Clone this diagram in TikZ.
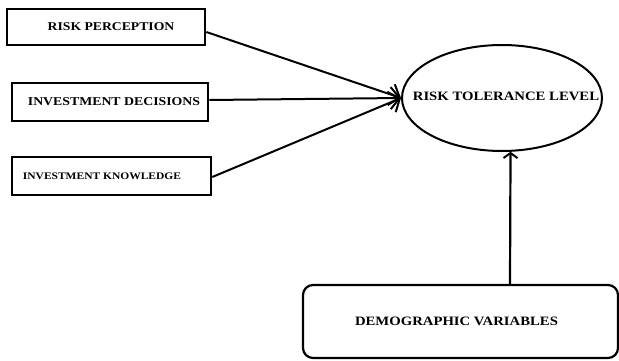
\documentclass[tikz,border=0pt]{standalone}
\usepackage{fontspec}
\setmainfont{Liberation Serif}
\newfontfamily\diagfont[FakeStretch=1.15]{Liberation Serif Bold}
\usetikzlibrary{arrows.meta,shapes.geometric,calc}
\begin{document}
\begin{tikzpicture}[x=1pt,y=-1pt,
  sqbox/.style={draw,line width=2.6pt,rectangle,inner sep=0pt,font=\diagfont},
  oval/.style={draw,line width=2pt,ellipse,inner sep=0pt,font=\diagfont},
  rbox/.style={draw,line width=2.2pt,rectangle,rounded corners=10pt,inner sep=0pt,font=\diagfont},
  arr/.style={line width=2pt,-{Straight Barb[length=9pt,width=22pt,line width=2pt]}},
  uparr/.style={line width=2.2pt,-{Straight Barb[length=5pt,width=14pt,line width=2pt]}}]
\useasboundingbox (0,0) rectangle (619,361);
\node[sqbox,minimum width=198pt,minimum height=36pt] (rp) at (106,27)
  {\fontsize{11.9}{14}\selectfont\hspace*{10pt}RISK PERCEPTION};
\node[sqbox,minimum width=196pt,minimum height=38pt] (id) at (110,102)
  {\fontsize{12}{14}\selectfont\hspace*{8pt}INVESTMENT DECISIONS};
\node[sqbox,minimum width=199pt,minimum height=38pt] (ik) at (111.5,176)
  {\fontsize{10}{12}\selectfont INVESTMENT KNOWLEDGE\hspace*{19pt}};
\node[oval,minimum width=200pt,minimum height=106pt,
  label={[font=\diagfont\fontsize{12.8}{15}\selectfont,xshift=4pt,yshift=2pt]center:RISK TOLERANCE LEVEL}] (rtl) at (502,98) {};
\node[rbox,minimum width=315pt,minimum height=73pt] (dv) at (460.5,321.5)
  {\fontsize{12.8}{15}\selectfont DEMOGRAPHIC VARIABLES\hspace*{8pt}};
\draw[arr] ([yshift=-5pt]rp.east) -- (rtl.west);
\draw[arr] ([yshift=2pt]id.east) -- (rtl.west);
\draw[arr] ([yshift=-1pt]ik.east) -- (rtl.west);
\draw[uparr] ([xshift=49.5pt]dv.north) -- (rtl.-81.4);
\end{tikzpicture}
\end{document}
